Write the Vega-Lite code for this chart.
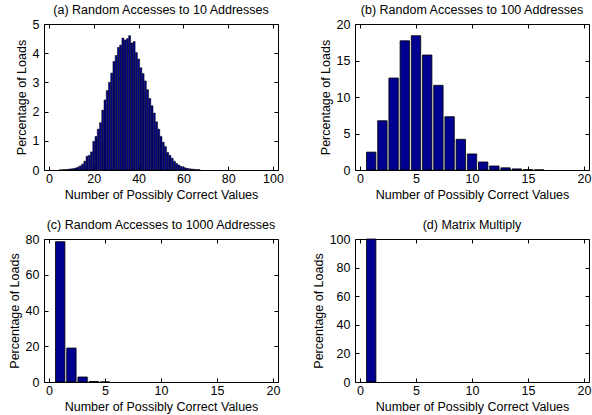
{
  "$schema": "https://vega.github.io/schema/vega-lite/v6.json",
  "padding": {"left": 7, "top": 3, "right": 0, "bottom": 0},
  "background": "white",
  "datasets": {
    "a": [
      {"n": 5, "pct": 0.005}, {"n": 6, "pct": 0.01}, {"n": 7, "pct": 0.015}, {"n": 8, "pct": 0.02},
      {"n": 9, "pct": 0.03}, {"n": 10, "pct": 0.04}, {"n": 11, "pct": 0.05}, {"n": 12, "pct": 0.07},
      {"n": 13, "pct": 0.1}, {"n": 14, "pct": 0.14}, {"n": 15, "pct": 0.2}, {"n": 16, "pct": 0.3},
      {"n": 17, "pct": 0.47}, {"n": 18, "pct": 0.5}, {"n": 19, "pct": 0.62}, {"n": 20, "pct": 0.98},
      {"n": 21, "pct": 1.15}, {"n": 22, "pct": 1.4}, {"n": 23, "pct": 1.62}, {"n": 24, "pct": 2.05},
      {"n": 25, "pct": 2.4}, {"n": 26, "pct": 2.72}, {"n": 27, "pct": 3.0}, {"n": 28, "pct": 3.32},
      {"n": 29, "pct": 3.72}, {"n": 30, "pct": 3.92}, {"n": 31, "pct": 4.2}, {"n": 32, "pct": 4.28},
      {"n": 33, "pct": 4.52}, {"n": 34, "pct": 4.45}, {"n": 35, "pct": 4.5}, {"n": 36, "pct": 4.6},
      {"n": 37, "pct": 4.35}, {"n": 38, "pct": 4.4}, {"n": 39, "pct": 4.02}, {"n": 40, "pct": 3.8},
      {"n": 41, "pct": 3.5}, {"n": 42, "pct": 3.3}, {"n": 43, "pct": 3.05}, {"n": 44, "pct": 2.75},
      {"n": 45, "pct": 2.45}, {"n": 46, "pct": 2.2}, {"n": 47, "pct": 1.95}, {"n": 48, "pct": 1.65},
      {"n": 49, "pct": 1.4}, {"n": 50, "pct": 1.15}, {"n": 51, "pct": 0.95}, {"n": 52, "pct": 0.8},
      {"n": 53, "pct": 0.6}, {"n": 54, "pct": 0.5}, {"n": 55, "pct": 0.4}, {"n": 56, "pct": 0.3},
      {"n": 57, "pct": 0.22}, {"n": 58, "pct": 0.17}, {"n": 59, "pct": 0.12}, {"n": 60, "pct": 0.1},
      {"n": 61, "pct": 0.07}, {"n": 62, "pct": 0.05}, {"n": 63, "pct": 0.04}, {"n": 64, "pct": 0.03},
      {"n": 65, "pct": 0.02}, {"n": 66, "pct": 0.015}, {"n": 67, "pct": 0.01}
    ],
    "b": [
      {"n": 1, "pct": 2.45}, {"n": 2, "pct": 6.75}, {"n": 3, "pct": 12.6}, {"n": 4, "pct": 17.7},
      {"n": 5, "pct": 18.4}, {"n": 6, "pct": 15.75}, {"n": 7, "pct": 11.6}, {"n": 8, "pct": 7.3},
      {"n": 9, "pct": 4.2}, {"n": 10, "pct": 2.2}, {"n": 11, "pct": 1.1}, {"n": 12, "pct": 0.55},
      {"n": 13, "pct": 0.3}, {"n": 14, "pct": 0.15}, {"n": 15, "pct": 0.05}, {"n": 16, "pct": 0.02}
    ],
    "c": [
      {"n": 1, "pct": 78.5}, {"n": 2, "pct": 19.0}, {"n": 3, "pct": 2.8}, {"n": 4, "pct": 0.3}, {"n": 5, "pct": 0.05}
    ],
    "d": [
      {"n": 1, "pct": 100}
    ]
  },
  "columns": 2,
  "spacing": {"row": 16, "column": 27},
  "concat": [
    {
      "title": "(a) Random Accesses to 10 Addresses",
      "width": 234, "height": 146,
      "data": {"name": "a"},
      "layer": [
        {
          "mark": {"type": "bar", "size": 2, "fill": "#000090", "stroke": "black", "strokeWidth": 0.5},
          "encoding": {
            "x": {"field": "n", "type": "quantitative", "scale": {"domain": [0, 100], "nice": false},
                  "axis": {"values": [0, 20, 40, 60, 80, 100], "title": "Number of Possibly Correct Values"}},
            "y": {"field": "pct", "type": "quantitative", "scale": {"domain": [0, 5], "nice": false},
                  "axis": {"values": [0, 1, 2, 3, 4, 5], "title": "Percentage of Loads"}}
          }
        },
        {
          "mark": {"type": "bar", "opacity": 0},
          "encoding": {
            "x": {"field": "n", "type": "quantitative", "scale": {"domain": [0, 100], "nice": false},
                  "axis": {"orient": "top", "values": [0, 20, 40, 60, 80, 100], "labels": false, "title": null}},
            "y": {"field": "pct", "type": "quantitative", "scale": {"domain": [0, 5], "nice": false},
                  "axis": {"orient": "right", "values": [0, 1, 2, 3, 4, 5], "labels": false, "title": null}}
          }
        }
      ],
      "resolve": {"axis": {"x": "independent", "y": "independent"}}
    },
    {
      "title": "(b) Random Accesses to 100 Addresses",
      "width": 234, "height": 146,
      "data": {"name": "b"},
      "layer": [
        {
          "mark": {"type": "bar", "size": 9.4, "fill": "#000090", "stroke": "black", "strokeWidth": 0.8},
          "encoding": {
            "x": {"field": "n", "type": "quantitative", "scale": {"domain": [0, 20], "nice": false},
                  "axis": {"values": [0, 5, 10, 15, 20], "title": "Number of Possibly Correct Values"}},
            "y": {"field": "pct", "type": "quantitative", "scale": {"domain": [0, 20], "nice": false},
                  "axis": {"values": [0, 5, 10, 15, 20], "title": "Percentage of Loads"}}
          }
        },
        {
          "mark": {"type": "bar", "opacity": 0},
          "encoding": {
            "x": {"field": "n", "type": "quantitative", "scale": {"domain": [0, 20], "nice": false},
                  "axis": {"orient": "top", "values": [0, 5, 10, 15, 20], "labels": false, "title": null}},
            "y": {"field": "pct", "type": "quantitative", "scale": {"domain": [0, 20], "nice": false},
                  "axis": {"orient": "right", "values": [0, 5, 10, 15, 20], "labels": false, "title": null}}
          }
        }
      ],
      "resolve": {"axis": {"x": "independent", "y": "independent"}}
    },
    {
      "title": "(c) Random Accesses to 1000 Addresses",
      "width": 234, "height": 143,
      "data": {"name": "c"},
      "layer": [
        {
          "mark": {"type": "bar", "size": 9.4, "fill": "#000090", "stroke": "black", "strokeWidth": 0.8},
          "encoding": {
            "x": {"field": "n", "type": "quantitative", "scale": {"domain": [0, 20], "nice": false},
                  "axis": {"values": [0, 5, 10, 15, 20], "title": "Number of Possibly Correct Values"}},
            "y": {"field": "pct", "type": "quantitative", "scale": {"domain": [0, 80], "nice": false},
                  "axis": {"values": [0, 20, 40, 60, 80], "title": "Percentage of Loads"}}
          }
        },
        {
          "mark": {"type": "bar", "opacity": 0},
          "encoding": {
            "x": {"field": "n", "type": "quantitative", "scale": {"domain": [0, 20], "nice": false},
                  "axis": {"orient": "top", "values": [0, 5, 10, 15, 20], "labels": false, "title": null}},
            "y": {"field": "pct", "type": "quantitative", "scale": {"domain": [0, 80], "nice": false},
                  "axis": {"orient": "right", "values": [0, 20, 40, 60, 80], "labels": false, "title": null}}
          }
        }
      ],
      "resolve": {"axis": {"x": "independent", "y": "independent"}}
    },
    {
      "title": "(d) Matrix Multiply",
      "width": 234, "height": 143,
      "data": {"name": "d"},
      "layer": [
        {
          "mark": {"type": "bar", "size": 9.4, "fill": "#000090", "stroke": "black", "strokeWidth": 0.8},
          "encoding": {
            "x": {"field": "n", "type": "quantitative", "scale": {"domain": [0, 20], "nice": false},
                  "axis": {"values": [0, 5, 10, 15, 20], "title": "Number of Possibly Correct Values"}},
            "y": {"field": "pct", "type": "quantitative", "scale": {"domain": [0, 100], "nice": false},
                  "axis": {"values": [0, 20, 40, 60, 80, 100], "title": "Percentage of Loads"}}
          }
        },
        {
          "mark": {"type": "bar", "opacity": 0},
          "encoding": {
            "x": {"field": "n", "type": "quantitative", "scale": {"domain": [0, 20], "nice": false},
                  "axis": {"orient": "top", "values": [0, 5, 10, 15, 20], "labels": false, "title": null}},
            "y": {"field": "pct", "type": "quantitative", "scale": {"domain": [0, 100], "nice": false},
                  "axis": {"orient": "right", "values": [0, 20, 40, 60, 80, 100], "labels": false, "title": null}}
          }
        }
      ],
      "resolve": {"axis": {"x": "independent", "y": "independent"}}
    }
  ],
  "config": {
    "font": "Liberation Sans",
    "view": {"stroke": "black", "strokeWidth": 1},
    "axis": {
      "grid": false, "domain": false, "tickSize": -4, "tickColor": "black", "tickWidth": 1,
      "labelFontSize": 12.5, "labelColor": "black", "titleFontSize": 12.5, "titleFontWeight": "normal",
      "titleColor": "black", "labelPadding": 6, "titlePadding": 4
    },
    "axisY": {"labelPadding": 9, "titlePadding": 4},
    "title": {"fontSize": 12.5, "fontWeight": "normal", "color": "black", "offset": 2, "frame": "group"}
  }
}
